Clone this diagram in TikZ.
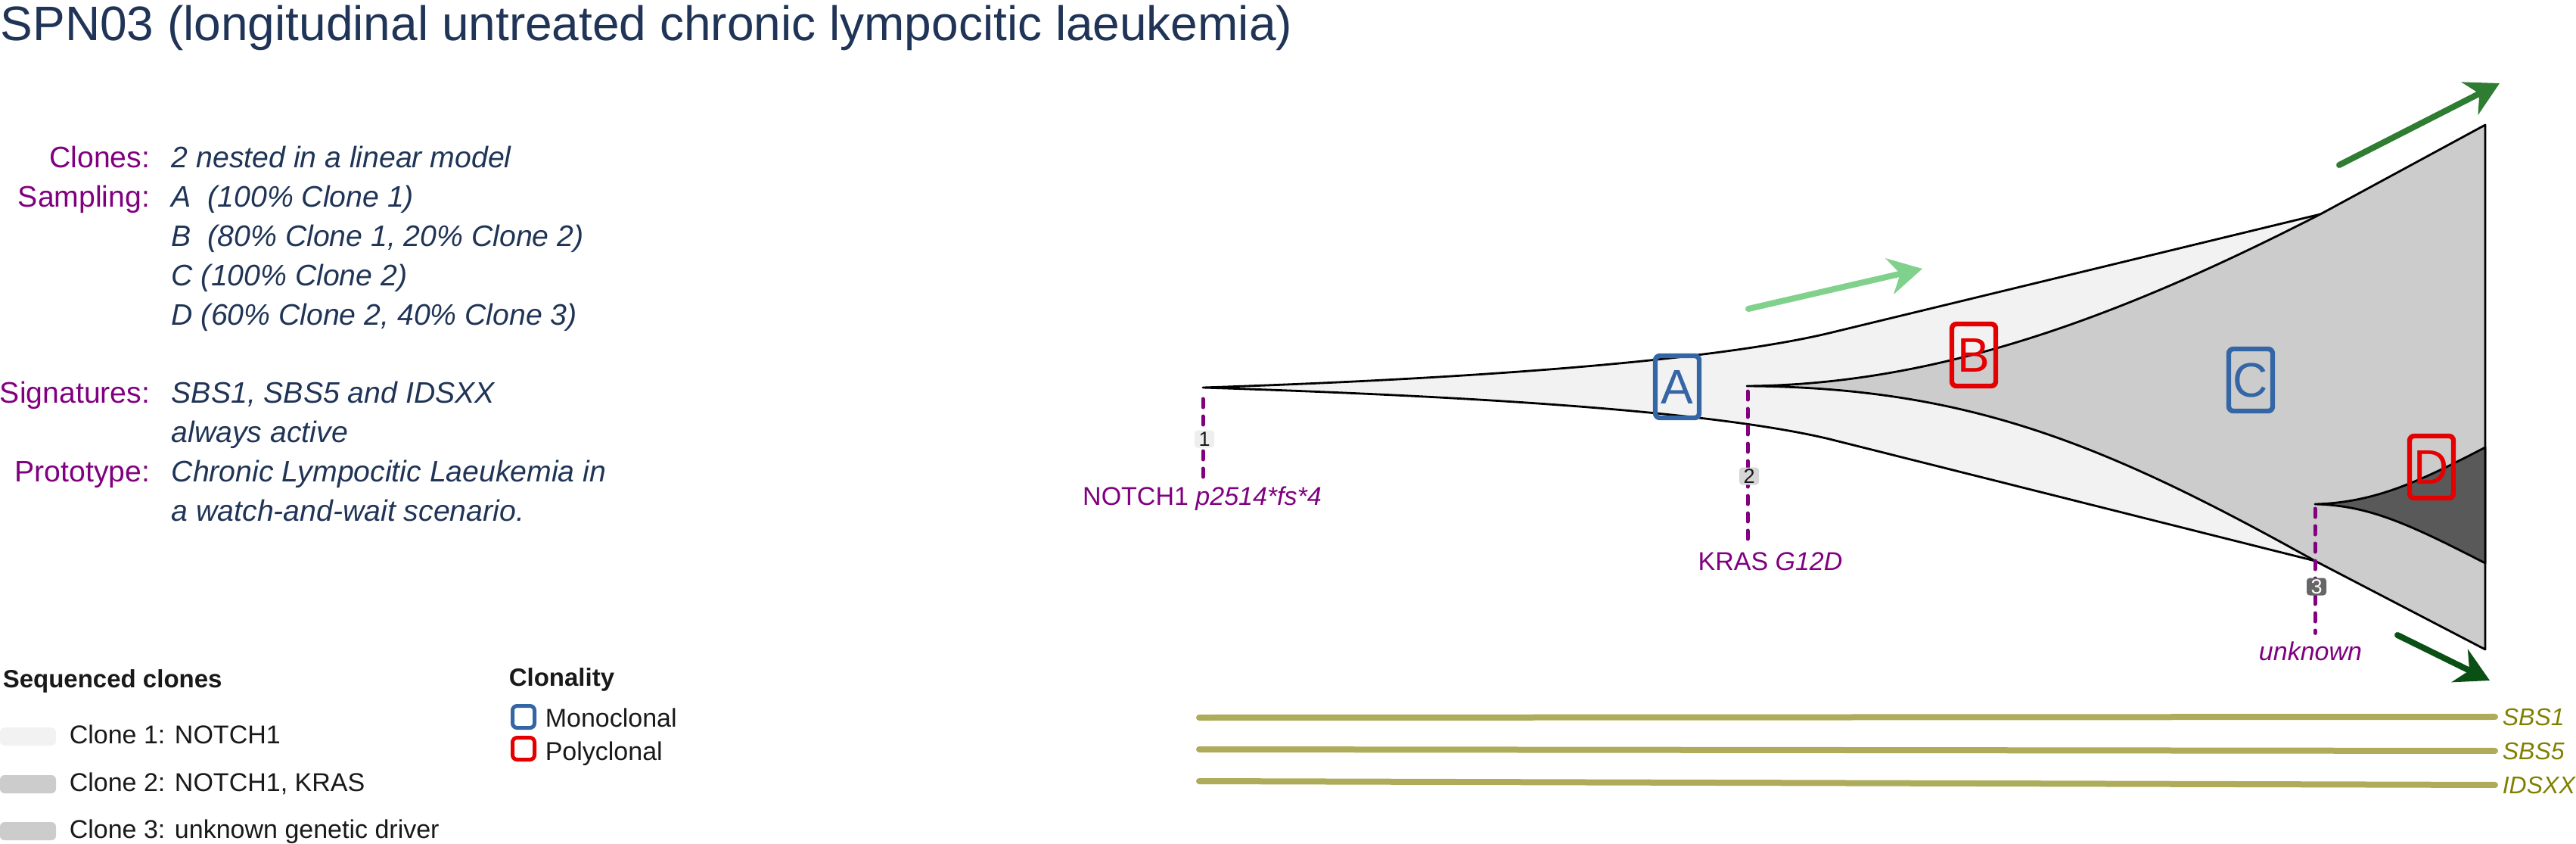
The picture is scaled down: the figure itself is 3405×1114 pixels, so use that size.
\documentclass[tikz,border=0pt]{standalone}
\usepackage{fontspec}
\setmainfont{Liberation Sans}
\usepackage{tikz}
\usetikzlibrary{arrows.meta}

\definecolor{titlenavy}{RGB}{31,52,86}
\definecolor{headpurple}{RGB}{128,0,128}
\definecolor{legendink}{RGB}{25,25,25}
\definecolor{monoblue}{RGB}{52,101,164}
\definecolor{polyred}{RGB}{228,0,0}
\definecolor{cloneone}{RGB}{242,242,242}
\definecolor{clonetwo}{RGB}{204,204,204}
\definecolor{clonethree}{RGB}{89,89,89}
\definecolor{tagone}{RGB}{238,238,238}
\definecolor{tagtwo}{RGB}{214,214,214}
\definecolor{tagthree}{RGB}{102,102,102}
\definecolor{lightgreen}{RGB}{127,209,140}
\definecolor{midgreen}{RGB}{46,125,50}
\definecolor{darkgreen}{RGB}{10,80,20}
\definecolor{sigline}{RGB}{174,172,90}
\definecolor{sigtext}{RGB}{128,128,0}

\tikzset{
  headlabel/.style={anchor=base east, inner sep=0pt, text=headpurple, font=\fontsize{9.8}{12}\selectfont},
  headtext/.style={anchor=base west, inner sep=0pt, text=titlenavy, font=\fontsize{9.8}{12}\selectfont\itshape},
  legendhead/.style={anchor=base west, inner sep=0pt, text=legendink, font=\fontsize{8.25}{10}\selectfont\bfseries},
  legendtext/.style={anchor=base west, inner sep=0pt, text=legendink, font=\fontsize{8.5}{10}\selectfont},
  swatch/.style={rounded corners=1.5pt},
  keybox/.style={line width=1.25pt, rounded corners=1.5pt, minimum size=7.25pt, inner sep=0pt},
  clonebox/.style={draw, line width=1.6pt, rounded corners=1.5pt, minimum width=14.5pt, minimum height=20.5pt, inner sep=0pt, font=\fontsize{16}{16}\selectfont},
  clonepath/.style={draw=black, line width=0.7pt, line join=round},
  mutline/.style={draw=headpurple, line width=1.25pt, line cap=round, dash pattern=on 2.75pt off 3pt},
  mutlabel/.style={anchor=base, inner sep=0pt, text=headpurple, font=\fontsize{8.5}{10}\selectfont},
  numtag/.style={rounded corners=1pt, inner sep=0pt, minimum width=6.5pt, minimum height=5.75pt, font=\fontsize{6.75}{6.75}\selectfont},
  growth/.style={line width=2pt, line cap=round, -{Stealth[length=11pt, width=12pt, inset=3.5pt]}},
  sigbar/.style={draw=sigline, line width=2pt, line cap=round},
  siglabel/.style={anchor=base west, inner sep=2.25pt, text=sigtext, font=\fontsize{8}{10}\selectfont\itshape},
}

\begin{document}
\begin{tikzpicture}[x=0.25pt,y=0.25pt,yscale=-1,xscale=1]
\useasboundingbox (0,0) rectangle (3405,1114);

% Text Node
\node[anchor=base west, inner sep=0pt, text=titlenavy, font=\fontsize{16}{19}\selectfont] (title) at (0,53) {SPN03 (longitudinal untreated chronic lympocitic laeukemia)};

% Text Node
\node[headlabel] (clones) at (199,221) {Clones:};
\node[headtext] (clonesv) at (226,221) {2 nested in a linear model};
% Text Node
\node[headlabel] (sampling) at (199,273) {Sampling:};
\node[headtext] (sampa) at (226,273) {A\ \ (100\% Clone 1)};
\node[headtext] (sampb) at (226,325) {B\ \ (80\% Clone 1, 20\% Clone 2)};
\node[headtext] (sampc) at (226,377) {C (100\% Clone 2)};
\node[headtext] (sampd) at (226,429) {D (60\% Clone 2, 40\% Clone 3)};
% Text Node
\node[headlabel] (signatures) at (199,532) {Signatures:};
\node[headtext] (sigv) at (226,532) {SBS1, SBS5 and IDSXX};
\node[headtext] (sigw) at (226,584) {always active};
% Text Node
\node[headlabel] (prototype) at (199,636) {Prototype:};
\node[headtext] (protov) at (226,636) {Chronic Lympocitic Laeukemia in};
\node[headtext] (protow) at (226,688) {a watch-and-wait scenario.};

%Shape: legend of the clones
\node[legendhead] (seqhead) at (3,908) {Sequenced clones};
\fill[cloneone, swatch] (0,961) rectangle (74,985);
\node[legendtext] (seqone) at (91,982) {Clone 1: NOTCH1};
\fill[clonetwo, swatch] (0,1024) rectangle (74,1048);
\node[legendtext] (seqtwo) at (91,1045) {Clone 2: NOTCH1, KRAS};
\fill[clonetwo, swatch] (0,1086) rectangle (74,1110);
\node[legendtext] (seqthree) at (91,1107) {Clone 3: unknown genetic driver};

%Shape: legend of the clonality
\node[legendhead] (clonhead) at (672,906) {Clonality};
\node[keybox, draw=monoblue] (monokey) at (692,947) {};
\node[legendtext] (mono) at (720,960) {Monoclonal};
\node[keybox, draw=polyred] (polykey) at (692,989) {};
\node[legendtext] (poly) at (720,1004) {Polyclonal};

%Shape: clone 1
\draw[clonepath, fill=cloneone] (1590,512) .. controls (1900,502) and (2250,480) .. (2418,440) -- (3067,283) -- (3060,741) -- (2418,580) .. controls (2250,540) and (1900,522) .. (1590,512) -- cycle;
%Shape: clone 2
\draw[clonepath, fill=clonetwo] (2309,510) .. controls (2560,508) and (2800,420) .. (3067,283) -- (3285,165) -- (3285,858) -- (3060,741) .. controls (2780,585) and (2600,512) .. (2309,510) -- cycle;
%Shape: clone 3
\draw[clonepath, fill=clonethree] (3060,666) .. controls (3140,664) and (3200,635) .. (3285,591) -- (3285,744) .. controls (3180,690) and (3130,668) .. (3060,666) -- cycle;

%Shape: samples
\node[clonebox, draw=monoblue, text=monoblue] (boxa) at (2217,511) {A};
\node[clonebox, draw=polyred, text=polyred] (boxb) at (2609,469) {B};
\node[clonebox, draw=monoblue, text=monoblue] (boxc) at (2975,502) {C};
\node[clonebox, draw=polyred, text=polyred] (boxd) at (3214,617) {D};

%Straight Lines: driver events
\coordinate (mone) at (1590,527);
\node[mutlabel, outer sep=1.5pt] (notch) at (1589,667) {NOTCH1 \textit{p2514*fs*4}};
\draw[mutline] (mone) -- (mone |- notch.north);
\node[numtag, fill=tagone, text=legendink] (tagone) at (1592,580) {1};

\coordinate (mtwo) at (2310,517);
\node[mutlabel, outer sep=3.4pt] (kras) at (2340,753) {KRAS \textit{G12D}};
\draw[mutline] (mtwo) -- (mtwo |- kras.north);
\node[numtag, fill=tagtwo, text=legendink] (tagtwo) at (2312,629) {2};

\coordinate (mthree) at (3060,672);
\node[mutlabel, outer sep=2.75pt] (unknown) at (3054,872) {\textit{unknown}};
\draw[mutline] (mthree) -- (mthree |- unknown.north);
\node[numtag, fill=tagthree, text=white] (tagthree) at (3062,775) {3};

%Straight Lines: growth arrows
\coordinate (gas) at (2311,408);
\coordinate (gae) at (2541,355);
\draw[growth, lightgreen] (gas) -- (gae);
\coordinate (gbs) at (3092,218);
\coordinate (gbe) at (3304,110);
\draw[growth, midgreen] (gbs) -- (gbe);
\coordinate (gcs) at (3169,839);
\coordinate (gce) at (3291,899);
\draw[growth, darkgreen] (gcs) -- (gce);

%Straight Lines: signatures
\node[siglabel] (sbsone) at (3298,958) {SBS1};
\coordinate (sgone) at (1585,948);
\draw[sigbar] (sgone) -- (sbsone.west);
\node[siglabel] (sbsfive) at (3298,1003) {SBS5};
\coordinate (sgfive) at (1585,990);
\draw[sigbar] (sgfive) -- (sbsfive.west);
\node[siglabel] (idsxx) at (3298,1048) {IDSXX};
\coordinate (sgxx) at (1585,1032);
\draw[sigbar] (sgxx) -- (idsxx.west);

\end{tikzpicture}
\end{document}
